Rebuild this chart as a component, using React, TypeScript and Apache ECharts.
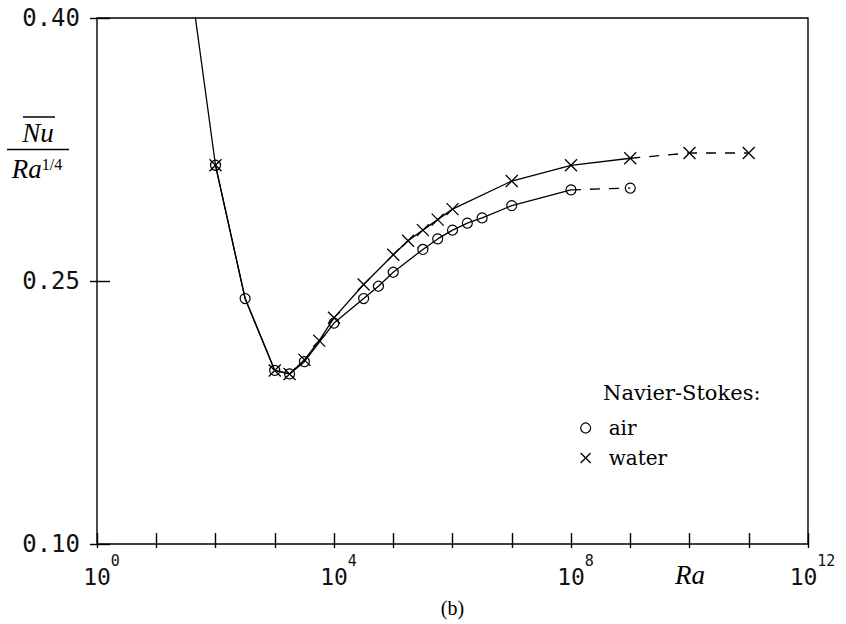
import React, { useEffect, useRef } from "react";
import * as echarts from "echarts";

// Ra given as powers of ten (exponents), Nu/Ra^(1/4) values
const airLogRa = [1.5, 2, 2.5, 3, 3.25, 3.5, 4, 4.5, 4.75, 5, 5.5, 5.75, 6, 6.25, 6.5, 7, 8];
const airNu = [0.44, 0.316, 0.240, 0.199, 0.197, 0.204, 0.226, 0.240, 0.247, 0.255, 0.268, 0.274, 0.279, 0.283, 0.286, 0.293, 0.302];
const airDashLogRa = [8, 9];
const airDashNu = [0.302, 0.303];

const waterLogRa = [2, 2.5, 3, 3.25, 3.5, 3.75, 4, 4.5, 5, 5.25, 5.5, 5.75, 6, 7, 8, 9];
const waterNu = [0.316, 0.240, 0.199, 0.197, 0.205, 0.216, 0.229, 0.248, 0.265, 0.273, 0.279, 0.285, 0.291, 0.307, 0.316, 0.320];
const waterNoMarker = [2.5];
const waterDashLogRa = [9, 10, 11];
const waterDashNu = [0.320, 0.323, 0.323];

const xTickExps = [0, 1, 2, 3, 4, 5, 6, 7, 8, 9, 10, 11, 12];
const xLabelExps = [0, 4, 8, 12];
const yTicks = [0.1, 0.25, 0.4];

const CROSS = "path://M0 0L10 10M10 0L0 10";
const circleStyle = { color: "rgba(0,0,0,0)", borderColor: "#000", borderWidth: 1.2 };
const crossStyle = { color: "rgba(0,0,0,0)", borderColor: "#000", borderWidth: 1.3 };

export default function App() {
  const ref = useRef<HTMLDivElement>(null);
  useEffect(() => {
    if (!ref.current) return;
    const chart = echarts.init(ref.current, null, { renderer: "svg" });
    const pts = (ex: number[], vals: number[]) => ex.map((e, i) => [Math.pow(10, e), vals[i]]);
    const xTicks = xTickExps.map((e) => Math.pow(10, e));
    const xLabels = xLabelExps.map((e) => Math.pow(10, e));
    const mono = "DejaVu Sans Mono";
    const serif = "Liberation Serif";
    const axisLineStyle = { color: "#000", width: 1.4 };

    const option: any = {
      animation: false,
      backgroundColor: "#fff",
      grid: { left: 97, right: 38, top: 18, bottom: 80, show: true, borderColor: "#000", borderWidth: 1.4 },
      xAxis: {
        type: "log",
        logBase: 10,
        min: 1,
        max: 1e12,
        position: "bottom",
        offset: -11,
        name: "(b)",
        nameLocation: "middle",
        nameGap: 65,
        nameTextStyle: { fontFamily: serif, fontSize: 20, color: "#000" },
        axisLine: { show: false },
        axisTick: { show: true, inside: false, length: 15, customValues: xTicks, lineStyle: axisLineStyle },
        axisLabel: {
          customValues: xLabels,
          margin: 20,
          formatter: (v: number) => `{p| }{b|10}{s|${Math.round(Math.log10(v))}}`,
          rich: {
            p: { width: 9, fontSize: 14 },
            b: { fontFamily: mono, fontSize: 23, lineHeight: 35, color: "#111", verticalAlign: "bottom" },
            s: { fontFamily: mono, fontSize: 15, lineHeight: 15, color: "#111", verticalAlign: "top" },
          },
        },
        splitLine: { show: false },
        minorTick: { show: false },
      },
      yAxis: {
        type: "value",
        min: 0.1,
        max: 0.4,
        position: "left",
        offset: -13,
        axisLine: { show: false },
        axisTick: { show: true, inside: false, length: 20, customValues: yTicks, lineStyle: axisLineStyle },
        axisLabel: {
          customValues: yTicks,
          margin: 30,
          fontFamily: mono,
          fontSize: 24,
          color: "#111",
          formatter: (v: number) => v.toFixed(2),
        },
        splitLine: { show: false },
      },
      legend: {
        orient: "vertical",
        left: 575,
        top: 412,
        itemWidth: 10,
        itemHeight: 10,
        itemGap: 8,
        selectedMode: false,
        textStyle: { fontFamily: "DejaVu Serif", fontSize: 20, color: "#000", lineHeight: 22, padding: [0, 0, 0, 13] },
        data: [
          { name: "air", icon: "circle", itemStyle: circleStyle },
          { name: "water", icon: CROSS, itemStyle: crossStyle },
        ],
      },
      series: [
        {
          name: "air",
          type: "line",
          clip: true,
          data: pts(airLogRa, airNu),
          symbol: "circle",
          symbolSize: 10,
          itemStyle: circleStyle,
          lineStyle: { color: "#000", width: 1.3 },
          z: 3,
        },
        {
          name: "air",
          type: "line",
          clip: true,
          data: pts(airDashLogRa, airDashNu).map((p, i) => (i === 0 ? { value: p, symbol: "none" } : { value: p })),
          symbol: "circle",
          symbolSize: 10,
          itemStyle: circleStyle,
          lineStyle: { color: "#000", width: 1.3, type: [10, 9] },
          z: 3,
        },
        {
          name: "water",
          type: "line",
          clip: true,
          data: pts(waterLogRa, waterNu).map((p, i) =>
            waterNoMarker.includes(waterLogRa[i]) ? { value: p, symbol: "none" } : { value: p }
          ),
          symbol: CROSS,
          symbolSize: 12,
          itemStyle: crossStyle,
          lineStyle: { color: "#000", width: 1.3 },
          z: 3,
        },
        {
          name: "water",
          type: "line",
          clip: true,
          data: pts(waterDashLogRa, waterDashNu).map((p, i) => (i === 0 ? { value: p, symbol: "none" } : { value: p })),
          symbol: CROSS,
          symbolSize: 12,
          itemStyle: crossStyle,
          lineStyle: { color: "#000", width: 1.3, type: [10, 9] },
          z: 3,
        },
      ],
      graphic: [
        {
          type: "text",
          left: 603,
          top: 382,
          style: { text: "Navier-Stokes:", fontFamily: "DejaVu Serif", fontSize: 21, fill: "#000" },
        },
        {
          type: "text",
          x: 38,
          y: 133,
          style: { text: "Nu", fontFamily: serif, fontStyle: "italic", fontSize: 27, fill: "#000", align: "center", verticalAlign: "middle" },
        },
        { type: "line", shape: { x1: 23, y1: 117, x2: 55, y2: 117 }, style: { stroke: "#000", lineWidth: 1.5 } },
        { type: "line", shape: { x1: 7, y1: 149.5, x2: 69, y2: 149.5 }, style: { stroke: "#000", lineWidth: 1.5 } },
        {
          type: "text",
          x: 37,
          y: 169,
          style: {
            text: "{r|Ra}{s|1/4}",
            align: "center",
            verticalAlign: "middle",
            rich: {
              r: { fontFamily: serif, fontStyle: "italic", fontSize: 27, lineHeight: 26, fill: "#000", verticalAlign: "bottom" },
              s: { fontFamily: serif, fontSize: 16, lineHeight: 16, fill: "#000", verticalAlign: "top" },
            },
          },
        },
        {
          type: "text",
          x: 690,
          y: 575,
          style: { text: "Ra", fontFamily: serif, fontStyle: "italic", fontSize: 27, fill: "#000", align: "center", verticalAlign: "middle" },
        },
      ],
    };
    chart.setOption(option);
    return () => chart.dispose();
  }, []);
  return <div ref={ref} style={{ position: "fixed", left: 0, top: 0, width: 846, height: 624 }} />;
}
